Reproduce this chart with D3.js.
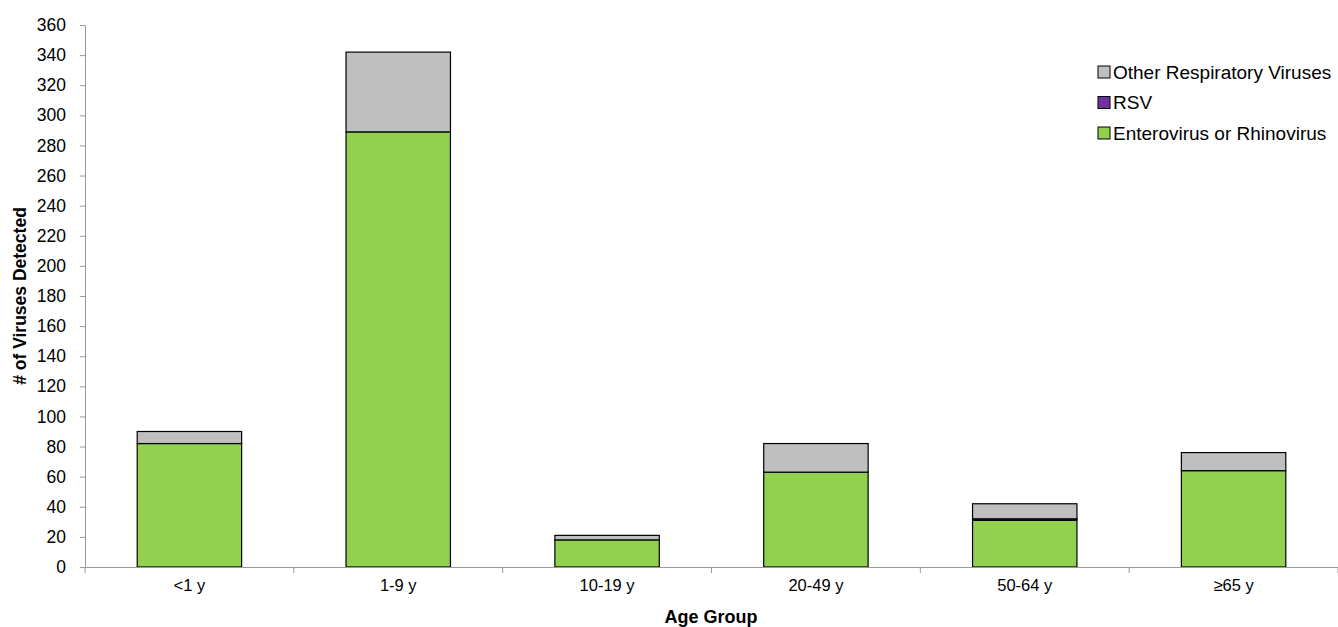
<!DOCTYPE html>
<html><head><meta charset="utf-8">
<script src="https://cdn.jsdelivr.net/npm/d3@7"></script>
<style>body{margin:0;background:#fff}svg{font-family:"Liberation Sans",Arial,sans-serif}</style>
</head><body><div id="chart"></div>
<script>
const categories = ['<1 y', '1-9 y', '10-19 y', '20-49 y', '50-64 y', '≥65 y'];
const entero = [82, 289, 18, 63, 31, 64];
const rsv = [0, 0, 0, 0, 1, 0];
const other = [8, 53, 3, 19, 10, 12];
const yTicks = d3.range(0, 361, 20);
const seriesNames = ['Enterovirus or Rhinovirus', 'RSV', 'Other Respiratory Viruses'];
const colors = ['#92d050', '#7030a0', '#bfbfbf'];

const W = 1338, H = 627;
const m = {left: 85, right: 0, top: 25, bottom: 60};
const svg = d3.select('#chart').append('svg').attr('width', W).attr('height', H);

const x = d3.scaleBand().domain(categories).range([m.left, W - m.right]).paddingInner(0.5).paddingOuter(0.25);
const y = d3.scaleLinear().domain([0, 360]).range([H - m.bottom, m.top]);

const rows = categories.map((c, i) => ({cat: c, s0: entero[i], s1: rsv[i], s2: other[i]}));
const stacked = d3.stack().keys(['s0', 's1', 's2'])(rows);

svg.selectAll('g.layer').data(stacked).enter().append('g')
  .attr('fill', (d, i) => colors[i])
  .selectAll('rect').data(d => d.filter(p => p[1] > p[0])).enter().append('rect')
  .attr('x', d => x(d.data.cat))
  .attr('y', d => y(d[1]))
  .attr('width', x.bandwidth())
  .attr('height', d => y(d[0]) - y(d[1]))
  .attr('stroke', '#000').attr('stroke-width', 1.2);

// y axis
const ya = svg.append('g').attr('transform', `translate(${m.left},0)`)
  .call(d3.axisLeft(y).tickValues(yTicks).tickSize(5).tickPadding(14).tickSizeOuter(0));
ya.selectAll('text').attr('font-size', 17.5).attr('fill', '#000').attr('font-family', 'Liberation Sans, Arial');
ya.select('.domain').attr('stroke', '#999');
ya.selectAll('line').attr('stroke', '#999');

// x axis with category-boundary ticks
const xa = svg.append('g').attr('transform', `translate(0,${H - m.bottom})`)
  .call(d3.axisBottom(x).tickSize(0).tickPadding(12));
xa.selectAll('text').attr('font-size', 16.5).attr('fill', '#000').attr('font-family', 'Liberation Sans, Arial');
xa.select('.domain').attr('stroke', '#999');
const step = x.step();
xa.selectAll('line.bnd').data(d3.range(categories.length + 1)).enter().append('line')
  .attr('class', 'bnd').attr('x1', i => m.left + i * step).attr('x2', i => m.left + i * step)
  .attr('y1', 0).attr('y2', 6).attr('stroke', '#999');

svg.append('text').attr('x', 711).attr('y', 623).attr('text-anchor', 'middle')
  .attr('font-weight', 'bold').attr('font-size', 18).text('Age Group');
svg.append('text').attr('transform', 'translate(26,296) rotate(-90)').attr('text-anchor', 'middle')
  .attr('font-weight', 'bold').attr('font-size', 17.5).text('# of Viruses Detected');

// legend
const leg = svg.append('g');
[2, 1, 0].forEach((si, k) => {
  const yy = 72 + k * 30.5;
  leg.append('rect').attr('x', 1098).attr('y', yy - 6).attr('width', 12).attr('height', 12)
    .attr('fill', colors[si]).attr('stroke', '#000').attr('stroke-width', 1);
  leg.append('text').attr('x', 1113).attr('y', yy + 6.5).attr('font-size', 19).text(seriesNames[si]);
});
</script></body></html>
